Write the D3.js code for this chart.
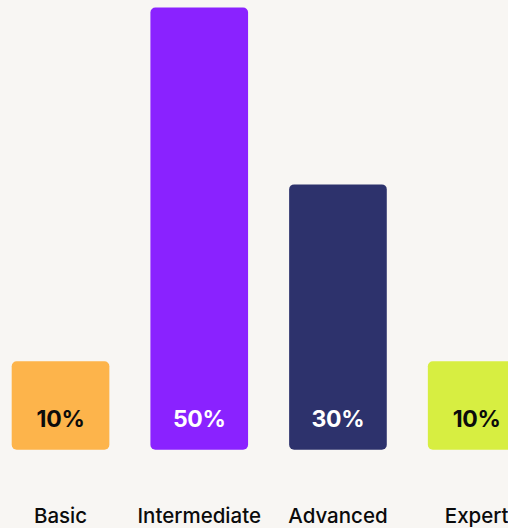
<!DOCTYPE html>
<html>
<head>
<meta charset="utf-8">
<script src="https://cdn.jsdelivr.net/npm/d3@7"></script>
<style>
  html, body { margin: 0; padding: 0; background: #F8F6F3; }
  svg { display: block; }
</style>
</head>
<body>
<script>
const categories = ["Basic", "Intermediate", "Advanced", "Expert"];
const values = [10, 50, 30, 10];
const valueLabels = ["10%", "50%", "30%", "10%"];
const barColors = ["#FDB44B", "#8A22FF", "#2D326C", "#D7EE41"];
const labelColors = ["#0B0B0B", "#FFFFFF", "#FFFFFF", "#0B0B0B"];

const W = 508, H = 528;
const svg = d3.select("body").append("svg").attr("width", W).attr("height", H);
svg.append("rect").attr("width", W).attr("height", H).attr("fill", "#F8F6F3");

const x = d3.scaleBand().domain(categories).range([11.7, 525.5]).paddingInner(0.296).paddingOuter(0);
const y = d3.scaleLinear().domain([0, 50]).range([449.7, 7.5]);

const data = categories.map((c, i) => ({ c, v: values[i], label: valueLabels[i], color: barColors[i], lc: labelColors[i] }));

svg.selectAll("rect.bar").data(data).join("rect")
  .attr("class", "bar")
  .attr("x", d => x(d.c))
  .attr("y", d => y(d.v))
  .attr("width", x.bandwidth())
  .attr("height", d => y(0) - y(d.v))
  .attr("rx", 5).attr("ry", 5)
  .attr("fill", d => d.color);

svg.selectAll("text.val").data(data).join("text")
  .attr("class", "val")
  .attr("x", d => x(d.c) + x.bandwidth() / 2)
  .attr("y", y(0) - 22.5)
  .attr("text-anchor", "middle")
  .attr("font-family", "Inter, 'Noto Sans', sans-serif")
  .attr("font-weight", 700)
  .attr("font-size", 23)
  .attr("letter-spacing", -0.3)
  .attr("fill", d => d.lc)
  .text(d => d.label);

svg.selectAll("text.cat").data(data).join("text")
  .attr("class", "cat")
  .attr("x", d => x(d.c) + x.bandwidth() / 2)
  .attr("y", 523)
  .attr("text-anchor", "middle")
  .attr("font-family", "Inter, 'Noto Sans', sans-serif")
  .attr("font-weight", 500)
  .attr("font-size", 20.5)
  .attr("fill", "#0B0B0B")
  .text(d => d.c);
</script>
</body>
</html>
